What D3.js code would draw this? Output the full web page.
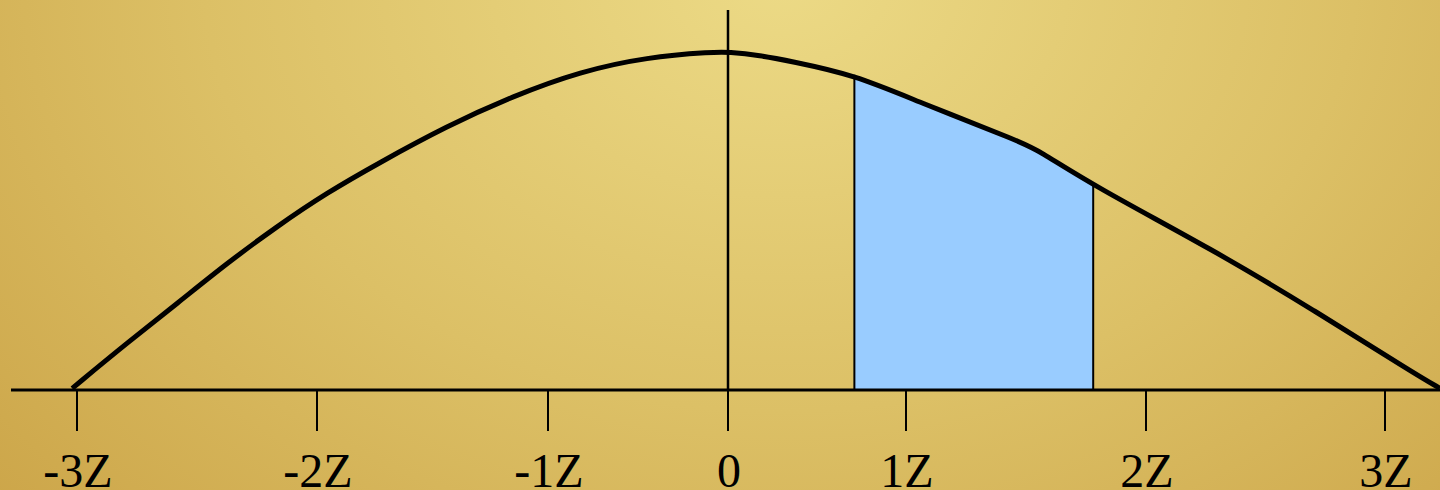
<!DOCTYPE html>
<html>
<head>
<meta charset="utf-8">
<script src="https://cdn.jsdelivr.net/npm/d3@7"></script>
<style>
  body { margin: 0; overflow: hidden; }
  svg { display: block; }
</style>
</head>
<body>
<div id="chart"></div>
<script>
// z positions of the ticks and their labels
const tickValues = [-3, -2, -1, 0, 1, 2, 3];
const tickLabels = ["-3Z", "-2Z", "-1Z", "0", "1Z", "2Z", "3Z"];

// curve (z, height)
const curveZ = [-3.02, -2.79, -2.58, -2.375, -2.17, -1.96, -1.73, -1.44, -1.15,
                -0.82, -0.45, -0.08, 0, 0.18, 0.35, 0.71, 1.06, 1.475, 1.55, 1.78, 2.28, 2.70, 3.12, 3.23];
const curveH = [0.002, 0.056, 0.103, 0.150, 0.193, 0.233, 0.269, 0.312, 0.348,
                0.377, 0.394, 0.400, 0.400, 0.396, 0.389, 0.373, 0.340, 0.294, 0.284, 0.242, 0.166, 0.095, 0.020, 0.002];

// shaded band
const bandFrom = 0.71, bandTo = 1.78;

const width = 1440, height = 490;

const svg = d3.select("#chart").append("svg")
    .attr("width", width)
    .attr("height", height);

// background
const defs = svg.append("defs");
const grad = defs.append("radialGradient")
    .attr("id", "bg")
    .attr("gradientUnits", "userSpaceOnUse")
    .attr("cx", 780).attr("cy", -20).attr("r", 1150)
    .attr("gradientTransform", "translate(780,-20) scale(1,0.75) translate(-780,20)");
grad.append("stop").attr("offset", "0%").attr("stop-color", "#ecda86");
grad.append("stop").attr("offset", "50%").attr("stop-color", "#dcc066");
grad.append("stop").attr("offset", "100%").attr("stop-color", "#c9a043");

svg.append("rect")
    .attr("width", width).attr("height", height)
    .attr("fill", "url(#bg)");

// the tick spacing in the picture is uneven, so a piecewise scale
const x = d3.scaleLinear()
    .domain(tickValues)
    .range([77, 317, 548, 728, 906, 1146, 1385]);
const y = d3.scaleLinear().domain([0, 0.4]).range([390, 52]);

const data = curveZ.map((z, i) => ({ z: z, h: curveH[i] }));

const curveType = d3.curveBasis;

// shaded band: area under the whole curve, clipped to the band
defs.append("clipPath").attr("id", "band")
  .append("rect")
    .attr("x", x(bandFrom)).attr("y", 0)
    .attr("width", x(bandTo) - x(bandFrom))
    .attr("height", y(0));

const area = d3.area()
    .x(d => x(d.z))
    .y0(y(0))
    .y1(d => y(d.h))
    .curve(curveType);

svg.append("path")
    .datum(data)
    .attr("d", area)
    .attr("clip-path", "url(#band)")
    .attr("fill", "#99ccff");

const bandEdges = data.filter(d => d.z === bandFrom || d.z === bandTo);
svg.append("g").selectAll("line")
    .data(bandEdges)
    .join("line")
    .attr("x1", d => x(d.z)).attr("x2", d => x(d.z))
    .attr("y1", d => y(d.h)).attr("y2", y(0))
    .attr("stroke", "#000").attr("stroke-width", 2);

// z axis
svg.append("line")
    .attr("x1", 11).attr("x2", width)
    .attr("y1", y(0)).attr("y2", y(0))
    .attr("stroke", "#000").attr("stroke-width", 3);

const ticks = svg.append("g");
ticks.selectAll("line")
    .data(tickValues)
    .join("line")
    .attr("x1", d => x(d)).attr("x2", d => x(d))
    .attr("y1", y(0)).attr("y2", y(0) + 41)
    .attr("stroke", "#000").attr("stroke-width", 2);

ticks.selectAll("text")
    .data(tickValues)
    .join("text")
    .attr("x", d => x(d) + 1)
    .attr("y", 487)
    .attr("text-anchor", "middle")
    .style("font-family", "'Liberation Serif', 'Times New Roman', serif")
    .style("font-size", "48px")
    .attr("fill", "#000")
    .text((d, i) => tickLabels[i]);

// centre line, down to the axis
svg.append("line")
    .attr("x1", x(0)).attr("x2", x(0))
    .attr("y1", 10).attr("y2", y(0))
    .attr("stroke", "#000").attr("stroke-width", 2.5);

// bell curve
const line = d3.line()
    .x(d => x(d.z))
    .y(d => y(d.h))
    .curve(curveType);

svg.append("path")
    .datum(data)
    .attr("d", line)
    .attr("fill", "none")
    .attr("stroke", "#000")
    .attr("stroke-width", 5);
</script>
</body>
</html>
